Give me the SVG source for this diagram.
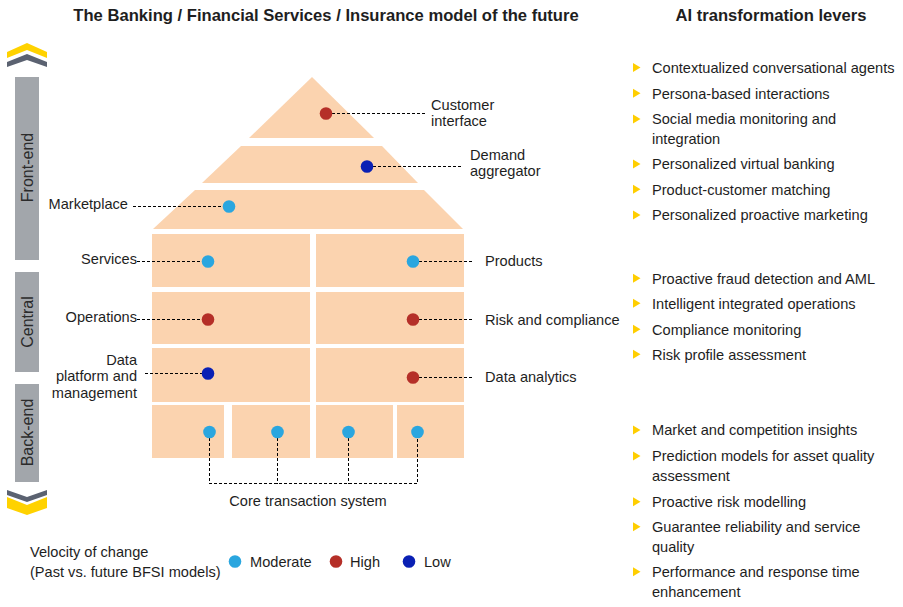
<svg xmlns="http://www.w3.org/2000/svg" width="903" height="607" viewBox="0 0 903 607">
<style>
text{font-family:"Liberation Sans",Arial,sans-serif;font-size:14.6px;fill:#1e1e1e}
.h{font-weight:bold;font-size:16.6px}
.side{font-size:16px;fill:#2b2b2b}
.peach{fill:#FBD3AF}
.bar{fill:#A2A6AB}
.dash{stroke:#000;stroke-width:1;stroke-dasharray:3,2;fill:none;shape-rendering:crispEdges}
.mod{fill:#2AA6DF}
.high{fill:#B52F28}
.low{fill:#0A20B4}
.bul{fill:#FFCE00}
</style>
<defs>
<polygon id="tri" points="0,-4.5 7.5,0 0,4.5" class="bul"/>
</defs>
<rect width="903" height="607" fill="#fff"/>
<g id="titles">
<text class="h" x="326" y="20.5" text-anchor="middle">The Banking / Financial Services / Insurance model of the future</text>
<text class="h" x="771" y="20.5" text-anchor="middle">AI transformation levers</text>
</g>
<g id="side-bars">
<polygon points="7,52 27,43 47,52 47,58 27,50 7,58" fill="#FFD200"/>
<polygon points="7,62 27,54 47,62 47,67 27,60 7,67" fill="#5B6271"/>
<rect class="bar" x="15" y="77" width="24" height="183"/>
<rect class="bar" x="15" y="272" width="24" height="100"/>
<rect class="bar" x="15" y="384" width="24" height="98"/>
<text class="side" transform="translate(33,167.5) rotate(-90)" text-anchor="middle">Front-end</text>
<text class="side" transform="translate(33,322) rotate(-90)" text-anchor="middle">Central</text>
<text class="side" transform="translate(33,432.5) rotate(-90)" text-anchor="middle">Back-end</text>
<polygon points="7,490 27,497 47,490 47,495 27,502 7,495" fill="#5B6271"/>
<polygon points="7,497 27,505 47,497 47,508 27,515 7,508" fill="#FFD200"/>
</g>
<g id="house">
<polygon class="peach" points="312,77 374,138 249,138"/>
<polygon class="peach" points="241,146 382,146 418,183 202,183"/>
<polygon class="peach" points="195,190 424,190 463,229 153,229"/>
<rect class="peach" x="152" y="234" width="158" height="53"/>
<rect class="peach" x="316" y="234" width="148" height="53"/>
<rect class="peach" x="152" y="292" width="158" height="52"/>
<rect class="peach" x="316" y="292" width="148" height="52"/>
<rect class="peach" x="152" y="348" width="158" height="54"/>
<rect class="peach" x="316" y="348" width="148" height="54"/>
<rect class="peach" x="152" y="405" width="72" height="53"/>
<rect class="peach" x="232" y="405" width="78" height="53"/>
<rect class="peach" x="316" y="405" width="77" height="53"/>
<rect class="peach" x="397" y="405" width="67" height="53"/>
</g>
<g id="connectors">
<path class="dash" d="M332,113.5H425"/>
<path class="dash" d="M373,166.5H462"/>
<path class="dash" d="M133,206.5H223"/>
<path class="dash" d="M137,261.5H202"/>
<path class="dash" d="M137,319.5H202"/>
<path class="dash" d="M145,373.5H202"/>
<path class="dash" d="M419,261.5H474"/>
<path class="dash" d="M419,319.5H474"/>
<path class="dash" d="M419,377.5H474"/>
<path class="dash" d="M209.5,438V483.5H417.5V438M277.5,438V483.5M348.5,438V483.5"/>
</g>
<g id="customer-interface">
<circle class="high" cx="326" cy="113.5" r="6.3"/>
<text x="431" y="110">Customer</text>
<text x="431" y="126">interface</text>
</g>
<g id="demand-aggregator">
<circle class="low" cx="367" cy="166.5" r="6.3"/>
<text x="470" y="160">Demand</text>
<text x="470" y="176">aggregator</text>
</g>
<g id="marketplace">
<circle class="mod" cx="229" cy="206.5" r="6.3"/>
<text x="128" y="208.5" text-anchor="end">Marketplace</text>
</g>
<g id="services">
<circle class="mod" cx="208" cy="261.5" r="6.3"/>
<text x="137" y="264" text-anchor="end">Services</text>
</g>
<g id="products">
<circle class="mod" cx="413" cy="261.5" r="6.3"/>
<text x="485" y="266">Products</text>
</g>
<g id="operations">
<circle class="high" cx="208" cy="319.5" r="6.3"/>
<text x="137" y="322" text-anchor="end">Operations</text>
</g>
<g id="risk-compliance">
<circle class="high" cx="413" cy="319.5" r="6.3"/>
<text x="485" y="324.5">Risk and compliance</text>
</g>
<g id="data-platform">
<circle class="low" cx="208" cy="373.5" r="6.3"/>
<text x="137" y="365" text-anchor="end">Data</text>
<text x="137" y="381" text-anchor="end">platform and</text>
<text x="137" y="397.5" text-anchor="end">management</text>
</g>
<g id="data-analytics">
<circle class="high" cx="413" cy="377.5" r="6.3"/>
<text x="485" y="382">Data analytics</text>
</g>
<g id="core-transaction-system">
<circle class="mod" cx="209.5" cy="432" r="6.3"/>
<circle class="mod" cx="277.5" cy="432" r="6.3"/>
<circle class="mod" cx="348.5" cy="432" r="6.3"/>
<circle class="mod" cx="417.5" cy="432" r="6.3"/>
<text x="308" y="506" text-anchor="middle">Core transaction system</text>
</g>
<g id="legend">
<text x="30" y="556.5">Velocity of change</text>
<text x="30" y="576.5">(Past vs. future BFSI models)</text>
<circle class="mod" cx="235" cy="561.5" r="6.3"/>
<text x="250" y="566.5">Moderate</text>
<circle class="high" cx="336" cy="561.5" r="6.3"/>
<text x="350" y="566.5">High</text>
<circle class="low" cx="409" cy="561.5" r="6.3"/>
<text x="424" y="566.5">Low</text>
</g>
<g id="levers-front">
<use href="#tri" x="633" y="67.5"/><text x="652" y="72.5">Contextualized conversational agents</text>
<use href="#tri" x="633" y="93.3"/><text x="652" y="98.5">Persona-based interactions</text>
<use href="#tri" x="633" y="119"/><text x="652" y="124">Social media monitoring and</text>
<text x="652" y="144">integration</text>
<use href="#tri" x="633" y="164"/><text x="652" y="169">Personalized virtual banking</text>
<use href="#tri" x="633" y="189.3"/><text x="652" y="194.5">Product-customer matching</text>
<use href="#tri" x="633" y="215"/><text x="652" y="220">Personalized proactive marketing</text>
</g>
<g id="levers-central">
<use href="#tri" x="633" y="278.3"/><text x="652" y="283.5">Proactive fraud detection and AML</text>
<use href="#tri" x="633" y="303.3"/><text x="652" y="308.5">Intelligent integrated operations</text>
<use href="#tri" x="633" y="329.3"/><text x="652" y="334.5">Compliance monitoring</text>
<use href="#tri" x="633" y="354.3"/><text x="652" y="359.5">Risk profile assessment</text>
</g>
<g id="levers-back">
<use href="#tri" x="633" y="430"/><text x="652" y="435">Market and competition insights</text>
<use href="#tri" x="633" y="456"/><text x="652" y="461">Prediction models for asset quality</text>
<text x="652" y="481">assessment</text>
<use href="#tri" x="633" y="501.7"/><text x="652" y="506.7">Proactive risk modelling</text>
<use href="#tri" x="633" y="526.7"/><text x="652" y="531.7">Guarantee reliability and service</text>
<text x="652" y="551.7">quality</text>
<use href="#tri" x="633" y="571.7"/><text x="652" y="576.7">Performance and response time</text>
<text x="652" y="596.7">enhancement</text>
</g>
</svg>
